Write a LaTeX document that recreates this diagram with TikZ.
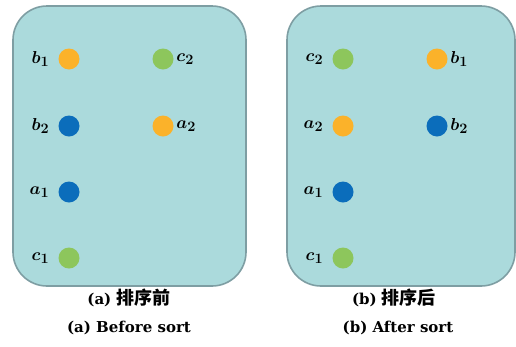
\documentclass[tikz,border=0pt]{standalone}
\usepackage{amsmath,bm}
\usepackage{fontspec}
\usetikzlibrary{positioning}
\setmainfont{DejaVu Serif}
\newfontfamily\cjk{Noto Sans CJK SC}
\definecolor{boxfill}{HTML}{ABDADC}
\definecolor{boxline}{HTML}{7E9EA3}
\definecolor{dotorange}{HTML}{FBB22A}
\definecolor{dotblue}{HTML}{0B6DBB}
\definecolor{dotgreen}{HTML}{8DC65C}
\newcommand{\lbl}[2]{$\bm{#1}_{\bm{#2}}$}
\begin{document}
\begin{tikzpicture}[x=1pt,y=-1pt,
  panel/.style={draw=boxline,line width=1.6pt,fill=boxfill,rounded corners=34pt},
  dot/.style={circle,minimum size=21pt,inner sep=0pt},
  od/.style={dot,fill=dotorange},
  bd/.style={dot,fill=dotblue},
  gd/.style={dot,fill=dotgreen},
  lab/.style={font=\fontsize{19}{19}\selectfont,inner sep=1pt},
  captext/.style={font=\fontsize{15}{15}\selectfont\bfseries,inner sep=0pt}]
\useasboundingbox (0,0) rectangle (516,346);
% panels
\draw[panel] (13,6) rectangle (246,286);
\draw[panel] (287,6) rectangle (515,286);
% left panel dots
\node[od] (lb1) at (69,59) {};
\node[bd] (lb2) at (69,126) {};
\node[bd] (la1) at (69,192) {};
\node[gd] (lc1) at (69,258) {};
\node[gd] (lc2) at (163,59) {};
\node[od] (la2) at (163,126) {};
\node[lab,left=8pt of lb1] (tlb1) {\lbl{b}{1}};
\node[lab,left=8pt of lb2] (tlb2) {\lbl{b}{2}};
\node[lab,left=8pt of la1] (tla1) {\lbl{a}{1}};
\node[lab,left=8pt of lc1] (tlc1) {\lbl{c}{1}};
\node[lab,right=1.5pt of lc2] (tlc2) {\lbl{c}{2}};
\node[lab,right=1.5pt of la2] (tla2) {\lbl{a}{2}};
% right panel dots
\node[gd] (rc2) at (343,59) {};
\node[od] (ra2) at (343,126) {};
\node[bd] (ra1) at (343,192) {};
\node[gd] (rc1) at (343,258) {};
\node[od] (rb1) at (437,59) {};
\node[bd] (rb2) at (437,126) {};
\node[lab,left=8pt of rc2] (trc2) {\lbl{c}{2}};
\node[lab,left=8pt of ra2] (tra2) {\lbl{a}{2}};
\node[lab,left=8pt of ra1] (tra1) {\lbl{a}{1}};
\node[lab,left=8pt of rc1] (trc1) {\lbl{c}{1}};
\node[lab,right=1.5pt of rb1] (trb1) {\lbl{b}{1}};
\node[lab,right=1.5pt of rb2] (trb2) {\lbl{b}{2}};
% captions
\node[captext] (ca1) at (129,298) {(a)\ {\cjk\fontsize{18}{18}\selectfont 排序前}};
\node[captext] (ca2) at (129,328) {(a)\ Before sort};
\node[captext] (cb1) at (394,298) {(b)\ {\cjk\fontsize{18}{18}\selectfont 排序后}};
\node[captext] (cb2) at (398,328) {(b)\ After sort};
\end{tikzpicture}
\end{document}
